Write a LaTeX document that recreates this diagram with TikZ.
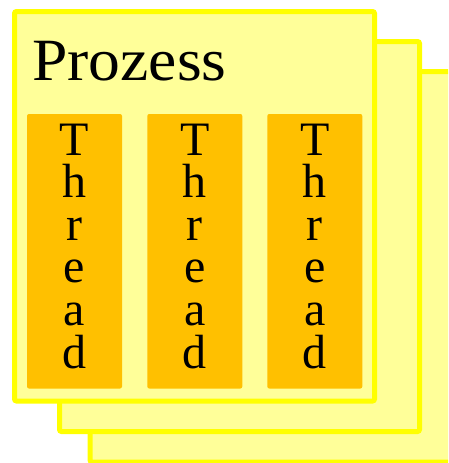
\documentclass[tikz,border=0pt]{standalone}
\usepackage{fontspec}
\setmainfont{Liberation Serif}
\definecolor{procfill}{HTML}{FFFF99}
\definecolor{procline}{HTML}{FFFF00}
\definecolor{threadfill}{HTML}{FFC000}
\begin{document}
\begin{tikzpicture}[x=1pt,y=-1pt,
  procbox/.style={draw=procline,fill=procfill,line width=5pt,rounded corners=2pt},
  threadbox/.style={fill=threadfill,rounded corners=2pt},
  letters/.style={anchor=base,inner sep=0pt,align=center,font=\fontsize{48}{42.6}\selectfont},
  title/.style={anchor=base west,inner sep=0pt,font=\fontsize{60}{60}\selectfont}]
\useasboundingbox (0,0) rectangle (448,463);
\begin{scope}
\clip (0,0) rectangle (448,463);
\draw[procbox] (90,71.5) rectangle (451,462);
\draw[procbox] (59.5,41.5) rectangle (419.5,431.5);
\draw[procbox] (14.5,11.5) rectangle (374.5,401);
\end{scope}
\node[title] (title) at (32,80) {\scalebox{1.06}[1]{Prozess}};
\foreach \i/\cx in {1/74.5,2/194.8,3/314.8}{
  \fill[threadbox] (\cx-47.5,114) rectangle (\cx+47.5,388.5);
  \node[letters] (t\i) at (\cx,368) {T\\h\\r\\e\\a\\d};
}
\end{tikzpicture}
\end{document}
